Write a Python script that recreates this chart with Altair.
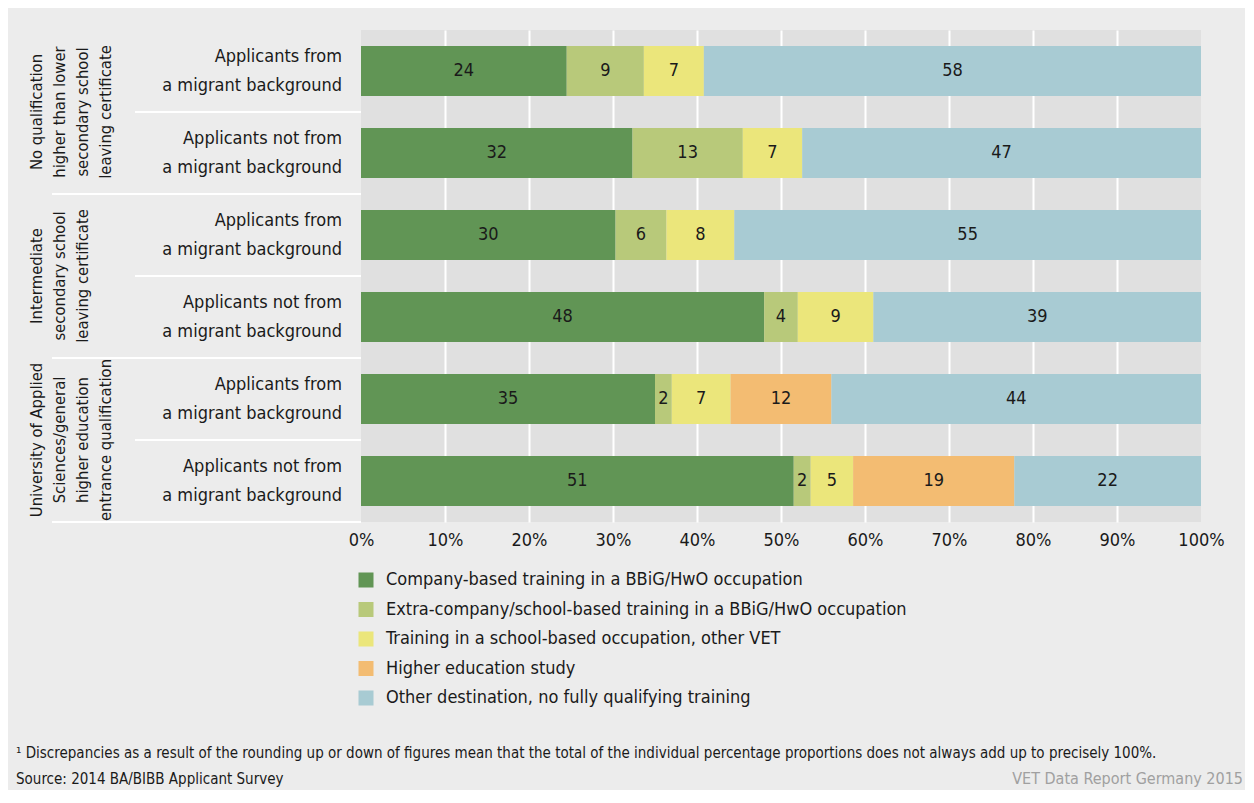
import altair as alt
import pandas as pd

FONT = "Liberation Sans Narrow, DejaVu Sans Condensed, sans-serif"

# ---- data ----
row_ids = ["r1", "r2", "r3", "r4", "r5", "r6"]
row_labels = [
    "Applicants from\na migrant background",
    "Applicants not from\na migrant background",
    "Applicants from\na migrant background",
    "Applicants not from\na migrant background",
    "Applicants from\na migrant background",
    "Applicants not from\na migrant background",
]
group_first_row = ["r1", "r3", "r5"]
group_labels = [
    "No qualification\nhigher than lower\nsecondary school\nleaving certificate",
    "Intermediate\nsecondary school\nleaving certificate",
    "University of Applied\nSciences/general\nhigher education\nentrance qualification",
]
categories = [
    "Company-based training in a BBiG/HwO occupation",
    "Extra-company/school-based training in a BBiG/HwO occupation",
    "Training in a school-based occupation, other VET",
    "Higher education study",
    "Other destination, no fully qualifying training",
]
colors = ["#619555", "#b8c97a", "#ebe67b", "#f3bc72", "#a8cbd3"]

company = [24, 32, 30, 48, 35, 51]
extra = [9, 13, 6, 4, 2, 2]
school = [7, 7, 8, 9, 7, 5]
higher = [None, None, None, None, 12, 19]
other = [58, 47, 55, 39, 44, 22]

series = [company, extra, school, higher, other]

records = []
for ci, (cat, vals) in enumerate(zip(categories, series)):
    for rid, v in zip(row_ids, vals):
        if v is not None:
            records.append({"row": rid, "cat": cat, "order": ci, "value": v})
df = pd.DataFrame(records)

lab_df = pd.DataFrame({"row": row_ids, "label": row_labels})
grp_df = pd.DataFrame({"row": group_first_row, "label": group_labels})
sep_inner = pd.DataFrame({"row": ["r1", "r3", "r5"]})
sep_outer = pd.DataFrame({"row": ["r2", "r4", "r6"]})
notes_df = pd.DataFrame({"t": ["x"]})

yscale = alt.Scale(domain=row_ids, paddingInner=0, paddingOuter=0)

base = alt.Chart(df).transform_stack(
    stack="value", groupby=["row"], as_=["x0", "x1"], offset="normalize",
    sort=[alt.SortField("order", order="ascending")],
).transform_calculate(mid="(datum.x0 + datum.x1) / 2")

bars = base.mark_bar(height=alt.RelativeBandSize(band=50 / 82)).encode(
    y=alt.Y("row:N", scale=yscale, axis=None),
    x=alt.X("x0:Q", scale=alt.Scale(domain=[0, 1], nice=False),
            axis=alt.Axis(format=".0%", values=[i / 10 for i in range(11)],
                          title=None, grid=True, gridColor="white", gridWidth=2,
                          gridOpacity={"condition": {"test": "datum.value <= 0 || datum.value >= 1", "value": 0}, "value": 1},
                          domain=False, ticks=False, labelFontSize=18,
                          labelColor="#1a1a1a", labelPadding=9, labelFont=FONT,
                          labelFlush=False, labelOverlap=False)),
    x2="x1:Q",
    color=alt.Color("cat:N", scale=alt.Scale(domain=categories, range=colors),
                    legend=alt.Legend(title=None, orient="none", legendX=-4, legendY=541,
                                      direction="vertical", symbolType="square",
                                      symbolSize=225, symbolStrokeWidth=0,
                                      labelFontSize=18, labelFont=FONT, labelColor="#1a1a1a",
                                      labelLimit=0, rowPadding=11.5, labelOffset=11,
                                      padding=0)),
    order=alt.Order("order:Q"),
)

vals = base.mark_text(fontSize=18, font=FONT, color="#1a1a1a").encode(
    y=alt.Y("row:N", scale=yscale, axis=None),
    x=alt.X("mid:Q"),
    text=alt.Text("value:Q"),
)

rowlab = alt.Chart(lab_df).mark_text(
    fontSize=18, font=FONT, color="#1a1a1a", align="right", baseline="middle",
    lineBreak="\n", lineHeight=29, dy=-14,
).encode(y=alt.Y("row:N", scale=yscale, axis=None), x=alt.value(-19), text="label:N")

grplab = alt.Chart(grp_df).mark_text(
    fontSize=16.5, font=FONT, color="#1a1a1a", align="center", baseline="top",
    angle=270, lineBreak="\n", lineHeight=23,
).encode(y=alt.Y("row:N", scale=yscale, axis=None, bandPosition=1),
         x=alt.value(-332), text="label:N")

rule_in = alt.Chart(sep_inner).mark_rule(color="white", strokeWidth=2).encode(
    y=alt.Y("row:N", scale=yscale, axis=None, bandPosition=1),
    x=alt.value(-226), x2=alt.value(0))
rule_out = alt.Chart(sep_outer).mark_rule(color="white", strokeWidth=2).encode(
    y=alt.Y("row:N", scale=yscale, axis=None, bandPosition=1),
    x=alt.value(-309), x2=alt.value(0))

foot = alt.Chart(notes_df).mark_text(
    fontSize=15, font=FONT, color="#1a1a1a", align="left", baseline="middle"
).encode(x=alt.value(-345), y=alt.value(723),
         text=alt.value("¹ Discrepancies as a result of the rounding up or down of figures mean that the total of the individual percentage proportions does not always add up to precisely 100%."))
src = alt.Chart(notes_df).mark_text(
    fontSize=15, font=FONT, color="#1a1a1a", align="left", baseline="middle"
).encode(x=alt.value(-345), y=alt.value(749), text=alt.value("Source: 2014 BA/BIBB Applicant Survey"))
brand = alt.Chart(notes_df).mark_text(
    fontSize=16, font=FONT, color="#a0a0a0", align="right", baseline="middle"
).encode(x=alt.value(882), y=alt.value(749), text=alt.value("VET Data Report Germany 2015"))

chart = alt.layer(bars, vals, rowlab, grplab, rule_in, rule_out, foot, src, brand).properties(
    width=840, height=492,
    padding={"left": 353, "top": 22, "right": 44, "bottom": 268},
    autosize=alt.AutoSizeParams(type="none"),
    background="#ececec",
).configure_view(fill="#e0e0e0", strokeWidth=0)

chart.save("out.html", embed_options={"renderer": "svg", "actions": False})
